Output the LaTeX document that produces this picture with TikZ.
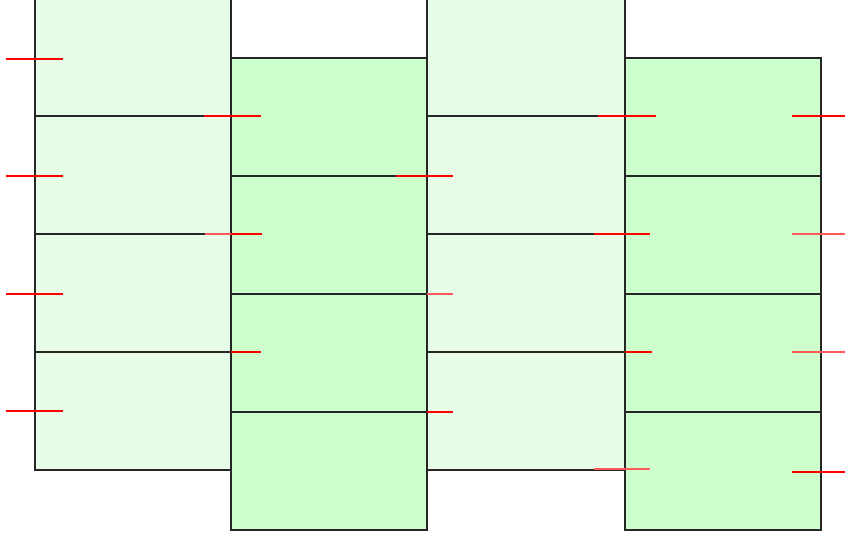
\documentclass[tikz,border=0pt]{standalone}
\begin{document}
\begin{tikzpicture}[x=1pt,y=-1pt,
  cell/.style={draw=black!85,line width=1.5pt,rectangle,anchor=north west,
    minimum width=196pt,minimum height=118pt,inner sep=0pt,outer sep=0pt},
  lightcell/.style={cell,fill={rgb,255:red,230;green,252;blue,230}},
  darkcell/.style={cell,fill={rgb,255:red,204;green,255;blue,204}},
  tick/.style={draw=red,line width=1.6pt},
  faint/.style={draw=red!65!white,line width=1.6pt}]
\useasboundingbox (0,0) rectangle (845,539);
\clip (0,0) rectangle (845,539);
% column 1
\foreach \i/\y in {1/-2,2/116,3/234,4/352}
  \node[lightcell] (a\i) at (35,\y) {};
% column 3
\foreach \i/\y in {1/-2,2/116,3/234,4/352}
  \node[lightcell,minimum width=198pt] (c\i) at (427,\y) {};
% column 2
\foreach \i/\y in {1/58,2/176,3/294,4/412}
  \node[darkcell] (b\i) at (231,\y) {};
% column 4
\foreach \i/\y in {1/58,2/176,3/294,4/412}
  \node[darkcell] (d\i) at (625,\y) {};
% ticks on left edge
\foreach \y in {59,176,294,411}
  \draw[tick] (6,\y) -- (63,\y);
% ticks at x=231
\draw[tick] (204,116) -- (261,116);
\draw[faint] (205,234) -- (231,234);
\draw[tick] (231,234) -- (262,234);
\draw[tick] (231,352) -- (261,352);
% ticks at x=427
\draw[tick] (396,176) -- (453,176);
\draw[faint] (427,294) -- (453,294);
\draw[tick] (427,412) -- (453,412);
% ticks at x=625
\draw[tick] (598,116) -- (656,116);
\draw[tick] (594,234) -- (650,234);
\draw[tick] (625,352) -- (652,352);
\draw[faint] (594,469) -- (650,469);
% ticks on right edge
\draw[tick] (792,116) -- (845,116);
\draw[faint] (792,234) -- (845,234);
\draw[faint] (792,352) -- (845,352);
\draw[tick] (792,472) -- (845,472);
\end{tikzpicture}
\end{document}
